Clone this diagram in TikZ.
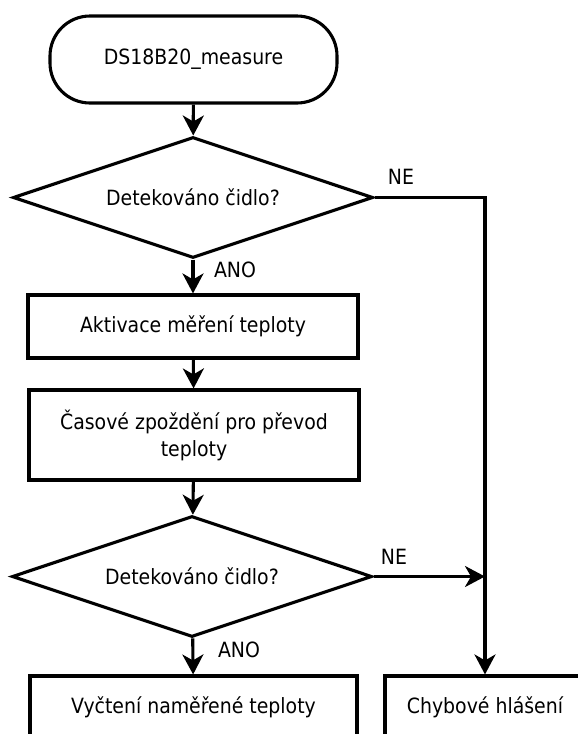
\documentclass[tikz,border=0pt]{standalone}
\usepackage{fontspec}
\setmainfont{DejaVu Sans Condensed}
\usetikzlibrary{shapes.geometric,arrows.meta}

\begin{document}
\begin{tikzpicture}[x=1pt,y=-1pt,line width=3.1pt,
  every node/.style={font=\fontsize{21}{27}\selectfont},
  term/.style={draw,rounded corners=40pt,minimum width=287pt,minimum height=87pt,inner sep=0},
  decision/.style={draw,diamond,aspect=3,minimum width=360pt,minimum height=121pt,inner sep=0},
  process/.style={draw,rectangle,minimum width=330pt,minimum height=63pt,inner sep=0,align=center},
  flow/.style={-{Stealth[length=20pt,width=21pt,inset=6pt]}}]

\useasboundingbox (0,0) rectangle (578,734);

\clip (0,0) rectangle (578,734);

\node [term] (start) at (193.5,59.5) {DS18B20\_measure};

\node [decision] (det1) at (193,197.5) {Detekováno čidlo?};

\node [process] (act) at (193,326.5) {Aktivace měření teploty};

\node [process,minimum height=90pt] (delay) at (194,435) {Časové zpoždění pro převod\\teploty};

\node [decision] (det2) at (192,576.5) {Detekováno čidlo?};

\node [process,minimum width=327pt] (read) at (193.5,707.5) {Vyčtení naměřené teploty};

\node [process,minimum width=200pt] (err) at (485,707.5) {Chybové hlášení};

\coordinate (turn1) at (485,197.5);

\coordinate (join2) at (485,576.5);

\draw [flow] (start) -- (det1);

\draw [flow] (det1) -- (act);

\node (ano1) at (235,270) {ANO};

\draw [flow] (det1.east) -- (turn1) -- (err.north);

\node (ne1) at (401,177) {NE};

\draw [flow] (act) -- (delay);

\draw [flow] (delay) -- (det2);

\draw [flow] (det2) -- (read);

\node (ano2) at (239,650) {ANO};

\draw [flow] (det2.east) -- (join2);

\node (ne2) at (394,557) {NE};

\end{tikzpicture}
\end{document}
